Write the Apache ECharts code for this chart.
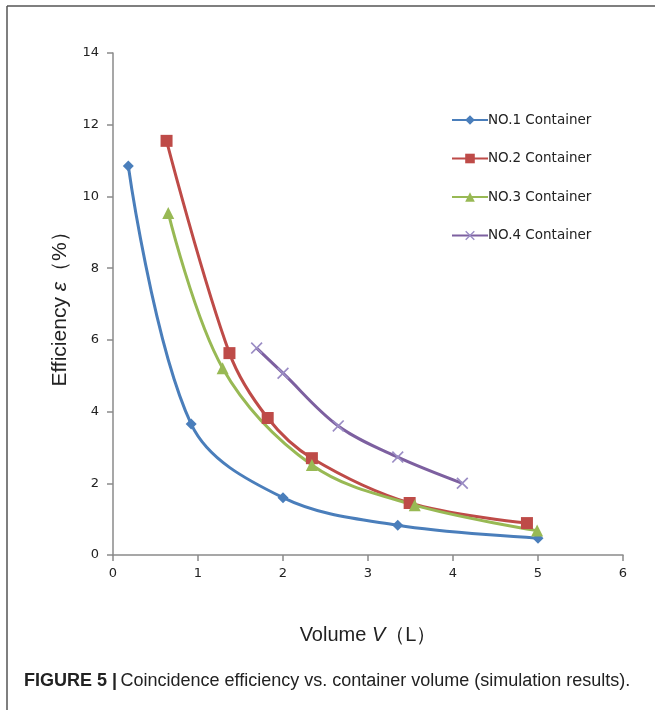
<!DOCTYPE html>
<html>
<head>
<meta charset="utf-8">
<script src="https://cdn.jsdelivr.net/npm/echarts@6/dist/echarts.min.js"></script>
<style>
  html, body { margin: 0; padding: 0; background: #fff; }
  #chart { width: 655px; height: 710px; }
</style>
</head>
<body>
<div id="chart"></div>
<script>
const seriesNames = ['NO.1 Container', 'NO.2 Container', 'NO.3 Container', 'NO.4 Container'];
const no1 = [[0.18, 10.85], [0.92, 3.65], [2.0, 1.6], [3.35, 0.83], [5.0, 0.47]];
const no2 = [[0.63, 11.55], [1.37, 5.63], [1.82, 3.82], [2.34, 2.70], [3.49, 1.45], [4.87, 0.89]];
const no3 = [[0.65, 9.54], [1.29, 5.21], [2.34, 2.51], [3.55, 1.39], [4.99, 0.68]];
const no4 = [[1.69, 5.77], [2.0, 5.07], [2.65, 3.60], [3.35, 2.73], [4.11, 2.0]];
const xTicks = [0, 1, 2, 3, 4, 5, 6];
const yTicks = [0, 2, 4, 6, 8, 10, 12, 14];

const colors = ['#4a7ebb', '#be4b48', '#98b954', '#7d60a0'];
const crossPath = 'path://M0,1 L1,0 L5,4 L9,0 L10,1 L6,5 L10,9 L9,10 L5,6 L1,10 L0,9 L4,5 Z';

const chart = echarts.init(document.getElementById('chart'));

const mkSeries = (name, data, color, symbol, size, symColor) => ({
    name, type: 'line', data, smooth: 0.35,
    symbol, symbolSize: size,
    lineStyle: { color, width: 3 },
    itemStyle: { color: symColor || color },
    z: 2,
});

chart.setOption({
    animation: false,
    textStyle: { fontFamily: 'DejaVu Sans' },
    grid: { left: 113, right: 32, top: 53, bottom: 155 },
    legend: {
        orient: 'vertical',
        left: 446, top: 108,
        itemGap: 24.5,
        itemWidth: 36, itemHeight: 12,
        textStyle: { fontSize: 13.5, color: '#222', fontFamily: 'DejaVu Sans', padding: [0, 0, 0, -5] },
        data: seriesNames,
    },
    xAxis: {
        type: 'value', min: xTicks[0], max: xTicks[xTicks.length - 1], interval: 1,
        axisLine: { lineStyle: { color: '#8a8a8a', width: 1.5 } },
        axisTick: { show: true, length: 6, lineStyle: { color: '#8a8a8a', width: 1.5 } },
        axisLabel: { color: '#222', fontSize: 13, margin: 12 },
        splitLine: { show: false },
        name: '{a|Volume }{i|V}{a|（L）}',
        nameLocation: 'middle', nameGap: 70,
        nameTextStyle: {
            rich: {
                a: { fontSize: 20, color: '#222', fontFamily: 'Liberation Sans' },
                i: { fontSize: 20, color: '#222', fontFamily: 'Liberation Sans', fontStyle: 'italic' },
            },
        },
    },
    yAxis: {
        type: 'value', min: yTicks[0], max: yTicks[yTicks.length - 1], interval: 2,
        axisLine: { show: true, lineStyle: { color: '#8a8a8a', width: 1.5 } },
        axisTick: { show: true, length: 6, lineStyle: { color: '#8a8a8a', width: 1.5 } },
        axisLabel: { color: '#222', fontSize: 13, margin: 14 },
        splitLine: { show: false },
        name: '{a|Efficiency }{i|ε}{a|（%）}',
        nameLocation: 'middle', nameGap: 42, nameRotate: 90,
        nameTextStyle: {
            rich: {
                a: { fontSize: 21, color: '#222', fontFamily: 'Liberation Sans' },
                i: { fontSize: 21, color: '#222', fontFamily: 'Liberation Sans', fontStyle: 'italic' },
            },
        },
    },
    series: [
        mkSeries(seriesNames[0], no1, colors[0], 'diamond', 11),
        mkSeries(seriesNames[1], no2, colors[1], 'rect', 12),
        mkSeries(seriesNames[2], no3, colors[2], 'triangle', 12),
        mkSeries(seriesNames[3], no4, colors[3], crossPath, 12, '#9a8cc4'),
    ],
    graphic: [
        { type: 'line', shape: { x1: 7, y1: 6, x2: 655, y2: 6 }, style: { stroke: '#555', lineWidth: 1.5 } },
        { type: 'line', shape: { x1: 7, y1: 6, x2: 7, y2: 710 }, style: { stroke: '#555', lineWidth: 1.5 } },
        {
            type: 'text', left: 24, top: 672,
            style: {
                text: '{b|FIGURE 5 |} {n|Coincidence efficiency vs. container volume (simulation results).}',
                rich: {
                    b: { fontSize: 18, fontWeight: 'bold', fill: '#222', fontFamily: 'Liberation Sans' },
                    n: { fontSize: 18, fill: '#222', fontFamily: 'Liberation Sans' },
                },
            },
        },
    ],
});
</script>
</body>
</html>
